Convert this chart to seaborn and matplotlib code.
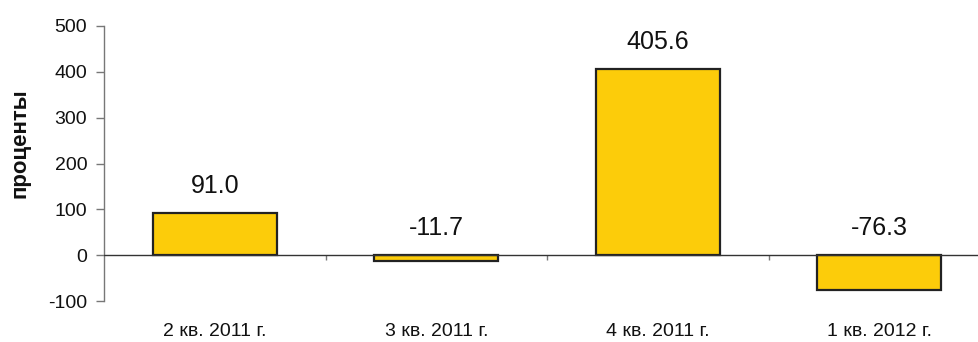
import matplotlib
matplotlib.use("Agg")
import matplotlib.pyplot as plt
import seaborn as sns
import pandas as pd

quarters = ["2 кв. 2011 г.", "3 кв. 2011 г.", "4 кв. 2011 г.", "1 кв. 2012 г."]
values = [91.0, -11.7, 405.6, -76.3]
y_ticks = [-100, 0, 100, 200, 300, 400, 500]

sns.set_theme(style="white")
plt.rcParams["font.family"] = ["Liberation Sans", "DejaVu Sans"]

df = pd.DataFrame({"quarter": quarters, "value": values})

W, H = 979, 342
fig = plt.figure(figsize=(W / 100, H / 100), dpi=100)
ax = fig.add_axes([104 / W, 41 / H, (979 - 104) / W, (316 - 41) / H])

sns.barplot(data=df, x="quarter", y="value", ax=ax, color="#FCCC0A",
            edgecolor="#222222", linewidth=1.6, width=0.56, saturation=1)

ax.set_ylim(-100, 500)
ax.set_xlim(-0.5, 3.45)
ax.set_yticks(y_ticks)
ax.set_yticklabels([str(t) for t in y_ticks], fontsize=14, color="#111111")
ax.tick_params(axis="y", direction="out", length=6, width=1, color="#777777", pad=6, left=True)
ax.tick_params(axis="x", length=0, pad=16, labelsize=14, labelcolor="#111111")

for side in ["top", "right", "bottom"]:
    ax.spines[side].set_visible(False)
ax.spines["left"].set_color("#777777")
ax.spines["left"].set_linewidth(1)

# zero line and category separators
ax.axhline(0, color="#333333", linewidth=1, zorder=3)
ax.vlines([0.5, 1.5, 2.5], -11, 0, color="#777777", linewidth=1)

# value labels above the bars (or above zero for negatives)
for i, v in enumerate(values):
    base = max(v, 0)
    ax.annotate(f"{v:.1f}", xy=(i, base), xytext=(0, 11), textcoords="offset points",
                ha="center", va="bottom", fontsize=18, color="#111111")

ax.set_xlabel("")
ax.set_ylabel("")
fig.text(20 / W, 1 - 143 / H, "проценты", rotation=90, ha="center", va="center",
         fontsize=16, fontweight="bold", color="#111111")

fig.savefig("out.png", dpi=100)
